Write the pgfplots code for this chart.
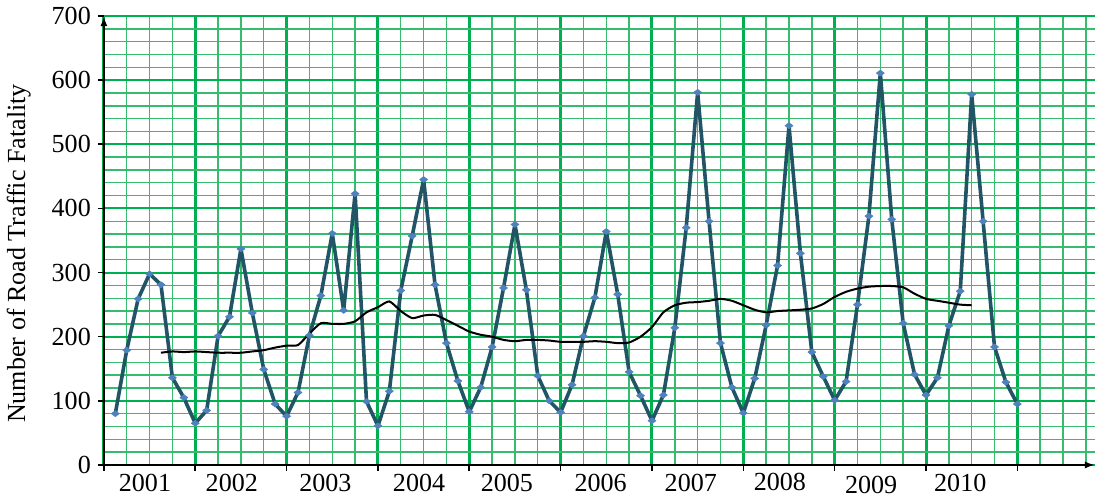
\documentclass[border=0pt]{standalone}
\usepackage{fontspec}
\setmainfont{Liberation Serif}
\usepackage{pgfplots}
\pgfplotsset{compat=1.18}
\usetikzlibrary{arrows.meta}

\definecolor{gmaj}{RGB}{0,176,80}
\definecolor{gmin}{RGB}{55,188,110}
\definecolor{dline}{RGB}{33,85,102}
\definecolor{dmark}{RGB}{79,129,189}

\begin{document}
\begin{tikzpicture}[font=\fontsize{13}{15}\selectfont]
\begin{axis}[
    scale only axis,
    width=494.5pt, height=224pt,
    xmin=0, xmax=86.8,
    ymin=0, ymax=700,
    axis x line=bottom, axis y line=left,
    axis line style={line width=1pt, -{Latex[length=5pt,width=3.5pt]}},
    xtick={0,8,...,80}, xticklabels={},
    minor xtick={2,4,...,86},
    ytick={0,100,...,700},
    minor ytick={20,40,...,680},
    grid=both,
    major x grid style={gmaj, line width=1.5pt},
    major y grid style={gmaj, line width=1pt},
    minor grid style={gmin, line width=0.7pt},
    tick align=outside,
    major tick length=3pt, minor tick length=0pt,
    tick style={black, line width=0.8pt},
    /pgf/number format/assume math mode=true,
    ylabel={Number of Road Traffic Fatality},
    every axis y label/.style={at={(axis description cs:-0.086,0.471)}, rotate=90, anchor=center},
    clip=false,
]

% observations, 8 per year
\addplot[dline, line width=1.8pt, line join=round,
    mark=diamond*, mark size=2pt,
    mark options={rotate=90, fill=dmark, draw=dmark, line width=0.3pt}]
coordinates {
(1,80) (2,179) (3,259) (4,298) (5,281) (6,136) (7,105) (8,65)
(9,85) (10,201) (11,231) (12,337) (13,237) (14,149) (15,95) (16,76)
(17,113) (18,202) (19,264) (20,361) (21,241) (22,423) (23,99) (24,61)
(25,115) (26,272) (27,357) (28,445) (29,281) (30,190) (31,131) (32,83)
(33,121) (34,184) (35,276) (36,375) (37,273) (38,139) (39,100) (40,82)
(41,125) (42,201) (43,261) (44,364) (45,266) (46,145) (47,108) (48,69)
(49,109) (50,214) (51,370) (52,581) (53,380) (54,190) (55,121) (56,81)
(57,135) (58,218) (59,311) (60,529) (61,330) (62,176) (63,138) (64,101)
(65,130) (66,250) (67,388) (68,611) (69,383) (70,221) (71,141) (72,109)
(73,136) (74,217) (75,271) (76,578) (77,380) (78,184) (79,129) (80,95)
};

% centred moving average
\addplot[black, line width=1pt, smooth, tension=0.4, no marks]
coordinates {
(5,175) (6,177) (7,176) (8,177) (9,176) (10,175) (11,175) (12,175)
(13,177) (14,179) (15,183) (16,186) (17,187) (18,205) (19,221) (20,220)
(21,220) (22,224) (23,238) (24,246) (25,255) (26,240) (27,229) (28,233)
(29,234) (30,226) (31,217) (32,208) (33,203) (34,200) (35,195) (36,193)
(37,195) (38,195) (39,194) (40,192) (41,192) (42,192) (43,193) (44,192)
(45,190) (46,191) (47,200) (48,215) (49,238) (50,249) (51,253) (52,254)
(53,256) (54,259) (55,256) (56,249) (57,242) (58,238) (59,240) (60,241)
(61,242) (62,244) (63,251) (64,262) (65,270) (66,275) (67,278) (68,279)
(69,279) (70,277) (71,267) (72,259) (73,256) (74,253) (75,250) (76,249)
};

\node[anchor=north, inner sep=0pt, yshift=-4.6pt] at (axis cs:3.6,0) {2001};
\node[anchor=north, inner sep=0pt, yshift=-4.6pt] at (axis cs:11.2,0) {2002};
\node[anchor=north, inner sep=0pt, yshift=-4.6pt] at (axis cs:19.4,0) {2003};
\node[anchor=north, inner sep=0pt, yshift=-4.6pt] at (axis cs:27.6,0) {2004};
\node[anchor=north, inner sep=0pt, yshift=-4.6pt] at (axis cs:35.3,0) {2005};
\node[anchor=north, inner sep=0pt, yshift=-4.6pt] at (axis cs:43.5,0) {2006};
\node[anchor=north, inner sep=0pt, yshift=-4.6pt] at (axis cs:51.4,0) {2007};
\node[anchor=north, inner sep=0pt, yshift=-4.0pt] at (axis cs:59.2,0) {2008};
\node[anchor=north, inner sep=0pt, yshift=-5.2pt] at (axis cs:67.2,0) {2009};
\node[anchor=north, inner sep=0pt, yshift=-4.6pt] at (axis cs:75.0,0) {2010};
\end{axis}
\path ([yshift=8pt]current axis.north west);
\path ([yshift=-17pt]current axis.south west);
\end{tikzpicture}
\end{document}
